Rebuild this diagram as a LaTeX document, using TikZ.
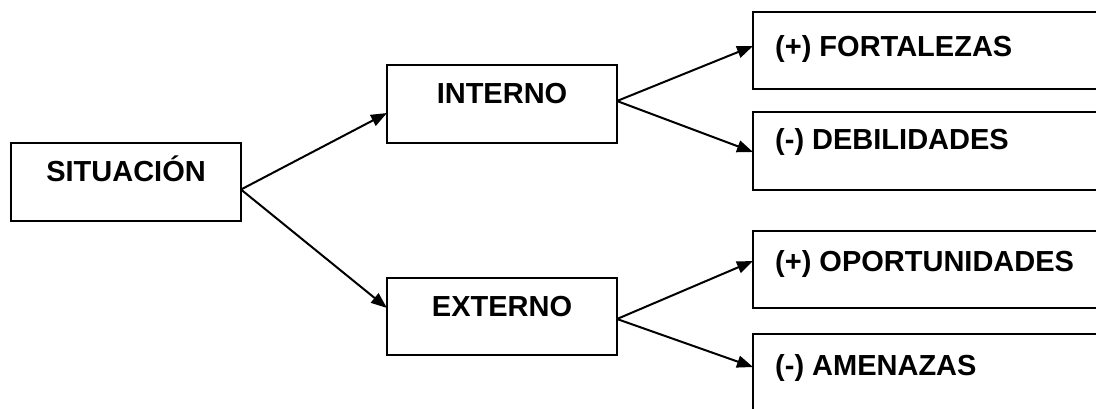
\documentclass[tikz,border=0pt]{standalone}
\usepackage{fontspec}
\setmainfont{Liberation Sans}
\usetikzlibrary{arrows.meta}
\tikzset{
  box/.style={draw, line width=2pt, inner sep=0pt, outer sep=0pt,
    minimum width=230pt, minimum height=78pt},
  sidebox/.style={draw, line width=2pt, inner sep=0pt, outer sep=0pt,
    minimum width=360pt, minimum height=78pt, anchor=west},
  txt/.style={inner sep=0pt, font=\bfseries\fontsize{29}{30}\selectfont},
  link/.style={line width=2pt, -{Triangle[length=16pt, width=12pt]}}
}
\begin{document}
\begin{tikzpicture}[x=1pt, y=-1pt]
  \useasboundingbox (0,0) rectangle (1096,408);
  \clip (0,0) rectangle (1096,408);

  % main boxes
  \node[box] (sit) at (126,182) {};
  \node[box] (int) at (502,104) {};
  \node[box, minimum height=77pt] (ext) at (502,316.5) {};

  \node[txt, anchor=base] (sitt) at (126,181.7) {SITUACIÓN};
  \node[txt, anchor=base] (intt) at (502,103.3) {INTERNO};
  \node[txt, anchor=base] (extt) at (502,316) {EXTERNO};

  % right-hand boxes, running past the right edge
  \node[sidebox, minimum height=77pt] (fort) at (753,50.5) {};
  \node[sidebox] (deb) at (753,151) {};
  \node[sidebox, minimum height=77pt] (opo) at (753,269.5) {};
  \node[sidebox, minimum height=77pt] (ame) at (753,372.5) {};

  \node[txt, anchor=base west] (fortt) at (775,56) {(+) FORTALEZAS};
  \node[txt, anchor=base west] (debt) at (775,149.5) {(-) DEBILIDADES};
  \node[txt, anchor=base west] (opot) at (775,271) {(+) OPORTUNIDADES};
  \node[txt, anchor=base west] (amet) at (775,375) {(-) AMENAZAS};

  % connectors
  \draw[link] ([yshift=-7.5pt]sit.east) -- ([yshift=-9pt]int.west);
  \draw[link] ([yshift=-7.5pt]sit.east) -- ([yshift=8.5pt]ext.west);
  \draw[link] ([yshift=3pt]int.east) -- ([yshift=4.5pt]fort.west);
  \draw[link] ([yshift=3pt]int.east) -- ([yshift=-1pt]deb.west);
  \draw[link] ([yshift=-2.5pt]ext.east) -- ([yshift=8.5pt]opo.west);
  \draw[link] ([yshift=-2.5pt]ext.east) -- ([yshift=5.5pt]ame.west);
\end{tikzpicture}
\end{document}
